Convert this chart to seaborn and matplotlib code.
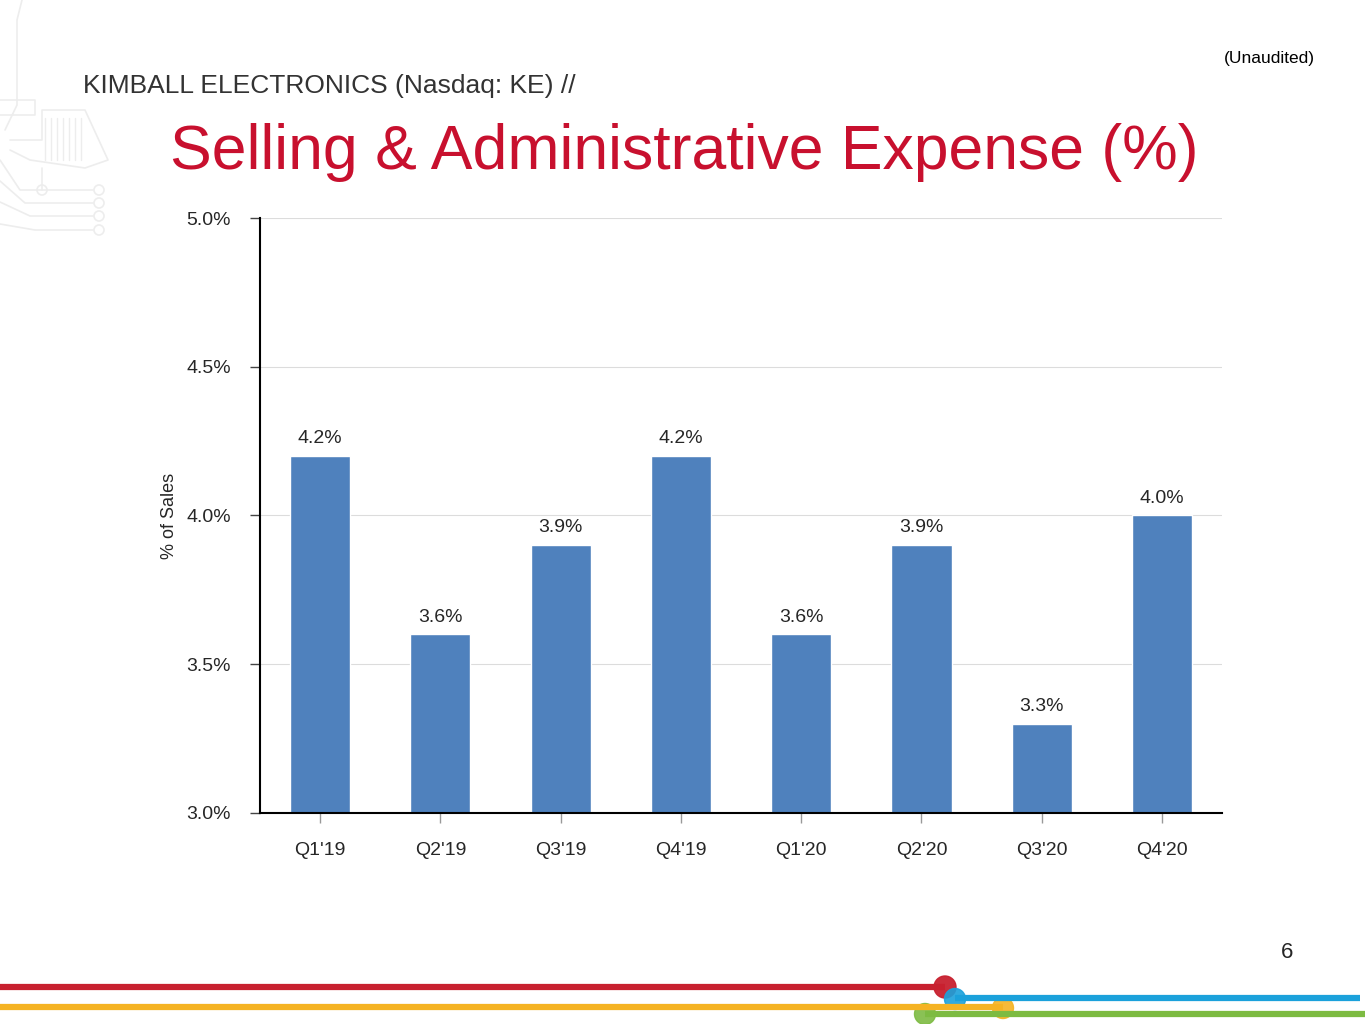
import matplotlib
matplotlib.use("Agg")
import matplotlib.pyplot as plt
import seaborn as sns
import pandas as pd
from matplotlib.patches import Circle

sns.set_theme(style="white")
plt.rcParams['font.family'] = ['Liberation Sans', 'DejaVu Sans']

# data
quarters = ["Q1'19", "Q2'19", "Q3'19", "Q4'19", "Q1'20", "Q2'20", "Q3'20", "Q4'20"]
sa_pct = [4.2, 3.6, 3.9, 4.2, 3.6, 3.9, 3.3, 4.0]
y_ticks = [3.0, 3.5, 4.0, 4.5, 5.0]

BAR_BLUE = "#4F81BD"
TITLE_RED = "#C8102E"

df = pd.DataFrame({"quarter": quarters, "pct": sa_pct})

fig = plt.figure(figsize=(13.65, 10.24), dpi=100)
ax = fig.add_axes([0.1905, 0.2061, 0.7048, 0.5810])

sns.barplot(data=df, x="quarter", y="pct", color=BAR_BLUE, width=0.5,
            saturation=1, ax=ax)

ax.set_ylim(3.0, 5.0)
ax.set_yticks(y_ticks)
ax.set_yticklabels([f"{t:.1f}%" for t in y_ticks], fontsize=14)
ax.set_xlim(-0.5, len(quarters) - 0.5)
ax.set_xticks(range(len(quarters)))
ax.set_xticklabels(quarters, fontsize=14)
ax.set_xlabel("")
ax.set_ylabel("% of Sales", fontsize=13, labelpad=6)
ax.yaxis.grid(True, color="#dcdcdc", linewidth=0.8)
ax.set_axisbelow(True)

for s in ["top", "right"]:
    ax.spines[s].set_visible(False)
for s in ["left", "bottom"]:
    ax.spines[s].set_color("black")
    ax.spines[s].set_linewidth(1.5)

ax.tick_params(axis="y", which="major", left=True, length=7, width=1, color="#444444", pad=14)
ax.tick_params(axis="x", which="major", bottom=True, length=7, width=1, color="#999999",
               direction="out", pad=14)

for i, v in enumerate(sa_pct):
    ax.text(i, v + 0.03, f"{v:.1f}%", ha="center", va="bottom", fontsize=14)

# header text
fig.text(83 / 1365, 1 - 86 / 1024, "KIMBALL ELECTRONICS (Nasdaq: KE) //", fontsize=19,
         color="#333333", ha="left", va="center")
fig.text(1315 / 1365, 1 - 59 / 1024, "(Unaudited)", fontsize=12.5, color="black",
         ha="right", va="center")
fig.text(684 / 1365, 1 - 152 / 1024, "Selling & Administrative Expense (%)", fontsize=45,
         color=TITLE_RED, ha="center", va="center")
fig.text(1287 / 1365, 1 - 952 / 1024, "6", fontsize=16, ha="center", va="center")

# faint circuit decoration top-left
deco = fig.add_axes([0, 0, 1, 1], zorder=-1)
deco.set_xlim(0, 1365)
deco.set_ylim(1024, 0)
deco.axis("off")
grey = "#ededed"
deco.plot([22, 17, 17, 5], [0, 20, 105, 130], color=grey, lw=1.2)
deco.plot([0, 35, 35, 0], [100, 100, 115, 115], color=grey, lw=1.2)
deco.plot([10, 42, 42, 85, 108, 85, 30, 10], [140, 140, 110, 110, 160, 168, 160, 150], color=grey, lw=1.2)
for xx in range(45, 85, 6):
    deco.plot([xx, xx], [118, 160], color=grey, lw=1)
deco.plot([42, 42], [168, 190], color=grey, lw=1.2)
deco.add_patch(Circle((42, 190), 5, fill=False, ec=grey, lw=1.2))
for k, yy in enumerate([190, 203, 216, 230]):
    deco.plot([0, 20 + k * 5, 93], [yy - 30 + k * 8, yy, yy], color=grey, lw=1.2)
    deco.add_patch(Circle((99, yy), 5, fill=False, ec=grey, lw=1.2))

# bottom coloured lines
deco.plot([0, 945], [987, 987], color="#C8202F", lw=4.5, solid_capstyle="butt")
deco.plot([955, 1360], [998, 998], color="#1BA1DB", lw=4.5, solid_capstyle="butt")
deco.plot([0, 1003], [1007, 1007], color="#F5B323", lw=4.5, solid_capstyle="butt")
deco.plot([925, 1365], [1014, 1014], color="#7DBB42", lw=4.5, solid_capstyle="butt")
deco.add_patch(Circle((945, 987), 11, color="#C8202F", alpha=0.95))
deco.add_patch(Circle((955, 999), 10.5, color="#1BA1DB", alpha=0.9))
deco.add_patch(Circle((1003, 1008), 10.5, color="#F5B323", alpha=0.9))
deco.add_patch(Circle((925, 1014), 10.5, color="#7DBB42", alpha=0.9))

fig.savefig("out.png", dpi=100)
